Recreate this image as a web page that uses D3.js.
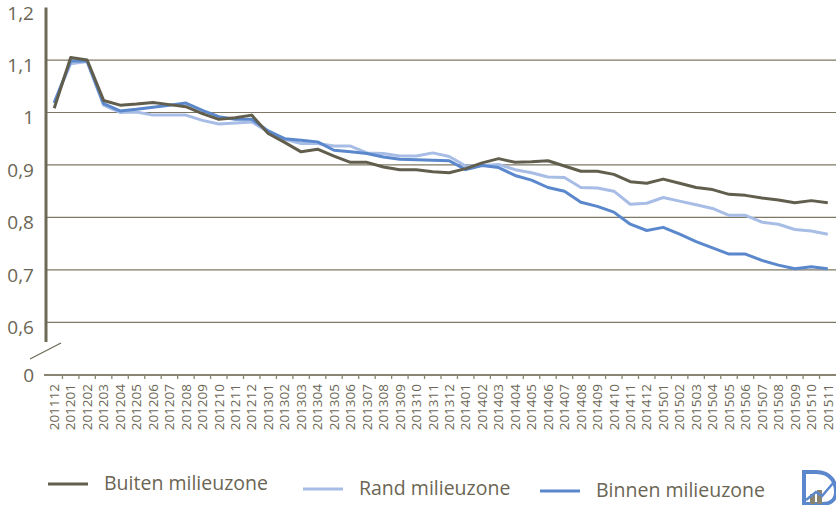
<!DOCTYPE html>
<html>
<head>
<meta charset="utf-8">
<script src="https://cdn.jsdelivr.net/npm/d3@7"></script>
<style>
  body { margin: 0; background: #fff; }
  svg text { font-family: "Open Sans", Lato, sans-serif; fill: #6b6654; }
</style>
</head>
<body>
<div id="chart"></div>
<script>
// months on the x axis
const months = [
  "201112","201201","201202","201203","201204","201205","201206","201207","201208","201209","201210","201211","201212",
  "201301","201302","201303","201304","201305","201306","201307","201308","201309","201310","201311","201312",
  "201401","201402","201403","201404","201405","201406","201407","201408","201409","201410","201411","201412",
  "201501","201502","201503","201504","201505","201506","201507","201508","201509","201510","201511"
]

// index values
const buiten = [1.008,1.105,1.100,1.023,1.014,1.016,1.019,1.015,1.011,0.998,0.987,0.990,0.995,
  0.960,0.943,0.925,0.930,0.917,0.905,0.905,0.896,0.891,0.891,0.887,0.885,
  0.893,0.904,0.912,0.905,0.906,0.908,0.898,0.888,0.888,0.882,0.868,0.865,
  0.873,0.865,0.857,0.853,0.844,0.842,0.837,0.833,0.828,0.832,0.828]
const rand = [1.020,1.093,1.097,1.014,1.000,1.001,0.995,0.995,0.995,0.985,0.978,0.980,0.982,
  0.963,0.949,0.941,0.941,0.936,0.936,0.923,0.922,0.917,0.917,0.923,0.916,
  0.898,0.899,0.901,0.891,0.885,0.877,0.876,0.857,0.856,0.850,0.825,0.827,
  0.838,0.831,0.824,0.817,0.804,0.804,0.791,0.787,0.777,0.774,0.768]
const binnen = [1.018,1.098,1.098,1.017,1.003,1.006,1.010,1.014,1.018,1.004,0.992,0.987,0.987,
  0.965,0.950,0.947,0.944,0.928,0.925,0.922,0.915,0.911,0.910,0.909,0.908,
  0.891,0.899,0.895,0.880,0.871,0.857,0.850,0.829,0.821,0.810,0.787,0.775,
  0.781,0.768,0.754,0.742,0.730,0.730,0.718,0.709,0.702,0.706,0.702]

const yTicks = [0, 0.6, 0.7, 0.8, 0.9, 1, 1.1, 1.2]
const gridTicks = [0.6, 0.7, 0.8, 0.9, 1, 1.1]

const series = [
  { name: "Rand milieuzone", values: rand, color: "#a7bde6" },
  { name: "Binnen milieuzone", values: binnen, color: "#5b88cc" },
  { name: "Buiten milieuzone", values: buiten, color: "#625e4d" }
]
const legendOrder = ["Buiten milieuzone", "Rand milieuzone", "Binnen milieuzone"]

const W = 836, H = 505
const LEFT = 46, RIGHT = 836, ZERO_Y = 375

const svg = d3.select("#chart").append("svg")
  .attr("width", W).attr("height", H)

const x = d3.scaleBand()
  .domain(months)
  .range([LEFT, RIGHT])

// broken axis: 0 sits at the bottom, 0.6 - 1.2 is the real range
const y = d3.scaleLinear()
  .domain([0, 0.6, 1.2])
  .range([ZERO_Y, 322.3, 7.6])

const fmt = d => String(+d.toFixed(1)).replace(".", ",")

// gridlines
svg.append("g")
  .selectAll("line")
  .data(gridTicks)
  .join("line")
    .attr("x1", LEFT).attr("x2", RIGHT)
    .attr("y1", d => y(d)).attr("y2", d => y(d))
    .attr("stroke", "#7d7866")
    .attr("stroke-width", 1.2)

// y axis labels
const yAxis = svg.append("g")
  .attr("transform", `translate(${LEFT},0)`)
  .call(d3.axisLeft(y).tickValues(yTicks).tickFormat(fmt).tickSize(0).tickPadding(12))
yAxis.select(".domain").remove()
yAxis.selectAll("text")
  .attr("font-size", 19)
  .attr("dy", d => d === 0 ? "0.35em" : "0.6em")
  .style("fill", "#6b6654")

// vertical axis line with break
svg.append("line")
  .attr("x1", LEFT).attr("x2", LEFT)
  .attr("y1", y(1.2)).attr("y2", 342)
  .attr("stroke", "#6f6a58").attr("stroke-width", 3)
svg.append("line")
  .attr("x1", 30).attr("y1", 359)
  .attr("x2", 61).attr("y2", 343)
  .attr("stroke", "#6f6a58").attr("stroke-width", 1.3)

// x axis
const xAxis = svg.append("g")
  .attr("transform", `translate(0,${ZERO_Y})`)
  .call(d3.axisBottom(x).tickSize(0).tickPadding(8))
xAxis.select(".domain")
  .attr("d", `M${LEFT - 2},0H${RIGHT}`)
  .attr("stroke", "#8a8572").attr("stroke-width", 2)
xAxis.selectAll("text")
  .attr("font-size", 13.5)
  .attr("text-anchor", "end")
  .attr("transform", "rotate(-90)")
  .attr("x", -9)
  .attr("y", 0)
  .attr("dy", "0.35em")
  .style("fill", "#6b6654")

// tick marks between months
svg.append("g")
  .selectAll("line")
  .data(months.slice(1))
  .join("line")
    .attr("x1", d => x(d)).attr("x2", d => x(d))
    .attr("y1", ZERO_Y).attr("y2", ZERO_Y + 4)
    .attr("stroke", "#8a8572").attr("stroke-width", 1.3)

// lines
const line = d3.line()
  .x((d, i) => x(months[i]) + x.bandwidth() / 2)
  .y(d => y(d))

svg.append("g")
  .selectAll("path")
  .data(series)
  .join("path")
    .attr("d", d => line(d.values))
    .attr("fill", "none")
    .attr("stroke", d => d.color)
    .attr("stroke-width", 3)
    .attr("stroke-linejoin", "round")

// legend
const legendX = [48, 303, 540]
const legendY = [484, 489, 491]
const legend = svg.append("g")
  .selectAll("g")
  .data(legendOrder.map(n => series.find(s => s.name === n)))
  .join("g")
    .attr("transform", (d, i) => `translate(${legendX[i]},${legendY[i]})`)
legend.append("line")
  .attr("x1", 0).attr("x2", 40)
  .attr("stroke", d => d.color).attr("stroke-width", 3)
legend.append("text")
  .attr("x", 56)
  .attr("dy", "0.3em")
  .attr("font-size", 19.5)
  .text(d => d.name)

// small logo bottom right
const logo = svg.append("g").attr("transform", "translate(802,470)")
logo.append("path")
  .attr("d", "M2,2 H14 C30,2 34,14 34,22 C34,30 28,34 20,34 H2 Z")
  .attr("fill", "none").attr("stroke", "#5b88cc").attr("stroke-width", 4)
logo.append("rect").attr("x", 8).attr("y", 24).attr("width", 5).attr("height", 10).attr("fill", "#8a8572")
logo.append("rect").attr("x", 15).attr("y", 20).attr("width", 5).attr("height", 14).attr("fill", "#8a8572")
logo.append("path")
  .attr("d", "M4,30 L14,22 L20,26 L32,12")
  .attr("fill", "none").attr("stroke", "#5b88cc").attr("stroke-width", 2.5)
</script>
</body>
</html>
